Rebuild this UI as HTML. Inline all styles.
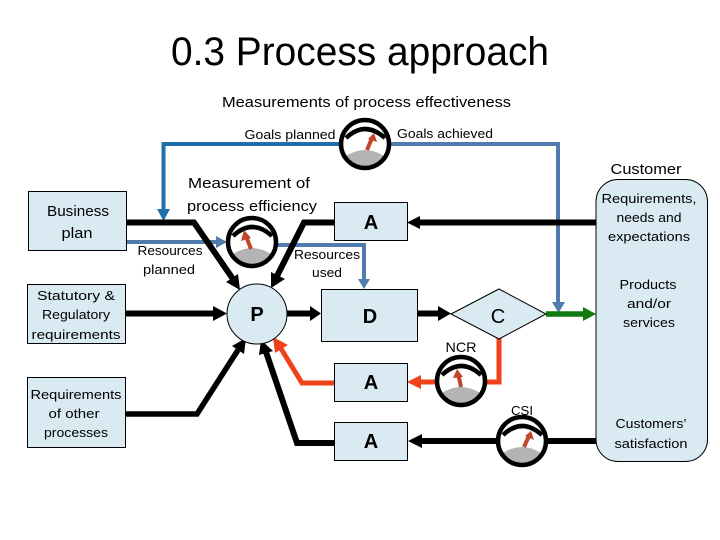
<!DOCTYPE html>
<html><head><meta charset="utf-8"><style>
html,body{margin:0;padding:0;background:#fff}
svg{display:block}
text{font-family:"Liberation Sans",sans-serif;fill:#000;text-anchor:middle}
.s{font-size:13px}.m{font-size:14.500px}.b{font-size:20px;font-weight:bold}
</style></head><body>
<svg width="720" height="540" viewBox="0 0 720 540" xmlns="http://www.w3.org/2000/svg">
<defs>
<g id="g">
<circle r="24" fill="#fff"/>
<path d="M-19 12Q0 0 19 12A22.500 22.500 0 0 1 -19 12Z" fill="#b4b4b4"/>
<path d="M-19 -6Q0 -24 20 -6" fill="none" stroke="#000" stroke-width="4.500"/>
<circle r="24" fill="none" stroke="#000" stroke-width="4.500"/>
</g>
</defs>

<text x="360" y="65" font-size="40" textLength="378" lengthAdjust="spacingAndGlyphs">0.3 Process approach</text>
<text class="m" x="366.500" y="107" textLength="289" lengthAdjust="spacingAndGlyphs">Measurements of process effectiveness</text>
<text class="s" x="290" y="139" textLength="91" lengthAdjust="spacingAndGlyphs">Goals planned</text>
<text class="s" x="445" y="138" textLength="96" lengthAdjust="spacingAndGlyphs">Goals achieved</text>
<text class="m" x="646" y="174" textLength="71" lengthAdjust="spacingAndGlyphs">Customer</text>

<!-- blue lines -->
<path d="M340 144H163.500V212" fill="none" stroke="#1f6fa8" stroke-width="4"/>
<path d="M157 209H170L163.500 221Z" fill="#1f6fa8"/>
<path d="M390 144H558V304" fill="none" stroke="#4f7cac" stroke-width="4"/>
<path d="M552 302H565L558.500 313Z" fill="#4f7cac"/>
<path d="M126 242H218" fill="none" stroke="#4f7cac" stroke-width="4"/>
<path d="M216 236L227 242L216 248Z" fill="#4f7cac"/>
<path d="M275 245H364V282" fill="none" stroke="#4f7cac" stroke-width="4"/>
<path d="M358 279H370L364 289Z" fill="#4f7cac"/>

<!-- black lines -->
<g fill="none" stroke="#000">
<path d="M126 222.500H194L233 279" stroke-width="6"/>
<path d="M334 222.500H304L277 276" stroke-width="6"/>
<path d="M596 222.500H415" stroke-width="6"/>
<path d="M125 313.500H217" stroke-width="6"/>
<path d="M125 414H197L238 350" stroke-width="5.500"/>
<path d="M334 443H297L266 352" stroke-width="6"/>
<path d="M287 313.500H312" stroke-width="6"/>
<path d="M417 313.500H441" stroke-width="6"/>
<path d="M596 441H415" stroke-width="6"/>
</g>
<g fill="#000">
<path d="M240 290L238 274L226 282Z"/>
<path d="M271 288L271 272L285 279Z"/>
<path d="M407 222.500L420 216V229Z"/>
<path d="M227 313.500L213 306V321Z"/>
<path d="M246 338L244 354L232 346Z"/>
<path d="M261 340L273 351L259 355Z"/>
<path d="M321 313.500L310 306V321Z"/>
<path d="M451 313.500L438 306V321Z"/>
<path d="M408 441L422 434V448Z"/>
</g>
<!-- orange -->
<path d="M334 383H302L280 347" fill="none" stroke="#f0421a" stroke-width="5"/>
<path d="M273 337L288 345L275 353Z" fill="#f0421a"/>
<path d="M499 338V382H480" fill="none" stroke="#f0421a" stroke-width="5"/>
<path d="M440 382H416" fill="none" stroke="#f0421a" stroke-width="5"/>
<path d="M407 382L421 375V389Z" fill="#f0421a"/>
<!-- green -->
<path d="M546 314H586" fill="none" stroke="#0f7a0f" stroke-width="5.500"/>
<path d="M596 314L583 307V321Z" fill="#0f7a0f"/>

<!-- nodes -->
<g fill="#daeaf2" stroke="#000" stroke-width="1">
<rect x="28.500" y="191.500" width="98" height="59"/>
<rect x="27.500" y="284.500" width="98" height="59"/>
<rect x="27.500" y="377.500" width="98" height="70"/>
<circle cx="257" cy="314" r="30"/>
<rect x="321.500" y="289.500" width="96" height="52"/>
<rect x="334.500" y="202.500" width="73" height="38"/>
<rect x="334.500" y="363.500" width="73" height="38"/>
<rect x="334.500" y="422.500" width="73" height="38"/>
<path d="M451 314L499 289L546 314L499 339Z"/>
<rect x="596" y="179.500" width="111.500" height="282" rx="22"/>
</g>

<!-- gauges -->
<use href="#g" x="365" y="144"/>
<path d="M367 150L372 138" stroke="#c0462a" stroke-width="4"/><path d="M374 133L377 142L368 139Z" fill="#c0462a"/>
<use href="#g" x="252" y="242"/>
<path d="M251 249L246 236" stroke="#c0462a" stroke-width="4"/><path d="M244 230L251 238L241 241Z" fill="#c0462a"/>
<use href="#g" x="461" y="381"/>
<path d="M461 387L458 373" stroke="#c0462a" stroke-width="4"/><path d="M457 369L463 377L453 378Z" fill="#c0462a"/>
<use href="#g" x="522" y="441"/>
<path d="M524 447L529 436" stroke="#c0462a" stroke-width="4"/><path d="M531 431L534 440L525 436Z" fill="#c0462a"/>

<!-- labels -->
<text class="m" x="78" y="216" textLength="62" lengthAdjust="spacingAndGlyphs">Business</text>
<text class="m" x="77" y="238" textLength="31" lengthAdjust="spacingAndGlyphs">plan</text>
<text class="s" x="76" y="300" textLength="78" lengthAdjust="spacingAndGlyphs">Statutory &amp;</text>
<text class="s" x="76" y="319" textLength="68" lengthAdjust="spacingAndGlyphs">Regulatory</text>
<text class="s" x="76" y="339" textLength="89" lengthAdjust="spacingAndGlyphs">requirements</text>
<text class="s" x="76" y="399" textLength="91" lengthAdjust="spacingAndGlyphs">Requirements</text>
<text class="s" x="74" y="418" textLength="51" lengthAdjust="spacingAndGlyphs">of other</text>
<text class="s" x="76" y="437" textLength="64" lengthAdjust="spacingAndGlyphs">processes</text>
<text class="m" x="249" y="188" textLength="122" lengthAdjust="spacingAndGlyphs">Measurement of</text>
<text class="m" x="252" y="211" textLength="130" lengthAdjust="spacingAndGlyphs">process efficiency</text>
<text class="s" x="170" y="255" textLength="65" lengthAdjust="spacingAndGlyphs">Resources</text>
<text class="s" x="169" y="274" textLength="52" lengthAdjust="spacingAndGlyphs">planned</text>
<text class="s" x="327" y="259" textLength="66" lengthAdjust="spacingAndGlyphs">Resources</text>
<text class="s" x="327" y="277" textLength="30" lengthAdjust="spacingAndGlyphs">used</text>
<text class="b" x="257" y="321">P</text>
<text class="b" x="370" y="323">D</text>
<text class="b" x="371" y="229">A</text>
<text class="b" x="371" y="389">A</text>
<text class="b" x="371" y="448">A</text>
<text x="498" y="323" font-size="20">C</text>
<text x="461" y="352" font-size="14" textLength="31" lengthAdjust="spacingAndGlyphs">NCR</text>
<text class="s" x="522" y="415" textLength="22" lengthAdjust="spacingAndGlyphs">CSI</text>
<text class="s" x="649" y="203" textLength="95" lengthAdjust="spacingAndGlyphs">Requirements,</text>
<text class="s" x="649" y="222" textLength="65" lengthAdjust="spacingAndGlyphs">needs and</text>
<text class="s" x="649" y="241" textLength="82" lengthAdjust="spacingAndGlyphs">expectations</text>
<text class="s" x="648" y="289" textLength="57" lengthAdjust="spacingAndGlyphs">Products</text>
<text class="s" x="649" y="308" textLength="44" lengthAdjust="spacingAndGlyphs">and/or</text>
<text class="s" x="649" y="327" textLength="52" lengthAdjust="spacingAndGlyphs">services</text>
<text class="s" x="651" y="428" textLength="71" lengthAdjust="spacingAndGlyphs">Customers’</text>
<text class="s" x="651" y="448" textLength="73" lengthAdjust="spacingAndGlyphs">satisfaction</text>
</svg>
</body></html>
